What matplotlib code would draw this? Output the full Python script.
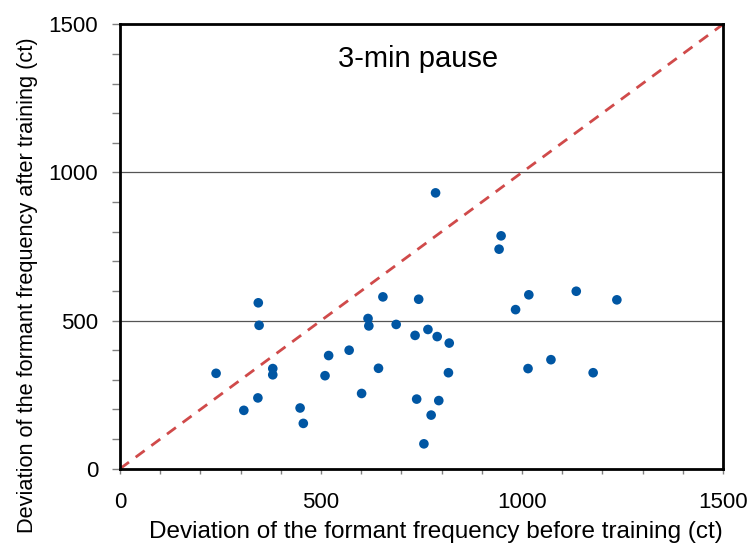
import numpy as np
import matplotlib
matplotlib.use('Agg')
import matplotlib.pyplot as plt
from matplotlib.ticker import MultipleLocator

plt.rcParams['font.family'] = ['Liberation Sans', 'DejaVu Sans']

# deviation before training (ct)
before = [239, 344, 346, 308, 343, 380, 380, 448, 456, 510,
          519, 570, 601, 617, 619, 643, 654, 687, 734, 738,
          743, 766, 756, 774, 789, 785, 793, 819, 817, 943,
          948, 984, 1017, 1015, 1072, 1135, 1177, 1236]
# deviation after training (ct)
after = [322, 560, 484, 197, 239, 338, 317, 205, 153, 314,
         382, 400, 254, 507, 482, 339, 580, 487, 450, 235,
         572, 470, 84, 181, 446, 931, 230, 424, 324, 741,
         786, 537, 587, 338, 368, 599, 324, 570]

x_ticks = [0, 500, 1000, 1500]
y_ticks = [0, 500, 1000, 1500]
title = '3-min pause'

fig = plt.figure(figsize=(7.51, 5.47), dpi=100)
ax = fig.add_axes([0.1598, 0.1431, 0.8029, 0.8125])

for g in [500, 1000]:
    ax.axhline(g, color='#555555', lw=0.9, zorder=1)

ax.plot([0, 1500], [0, 1500], ls=(0, (4, 3)), color='#d04a4a', lw=2.0,
        zorder=2)
ax.scatter(before, after, s=48, color='#0056a3', edgecolors='none',
           zorder=3)

ax.set_xlim(0, 1500)
ax.set_ylim(0, 1500)
ax.set_xticks(x_ticks)
ax.set_yticks(y_ticks)
ax.xaxis.set_minor_locator(MultipleLocator(100))
ax.yaxis.set_minor_locator(MultipleLocator(100))
ax.tick_params(which='both', direction='out', width=1, color='#808080',
               labelsize=16)
ax.tick_params(axis='x', which='both', length=3.6, pad=13)
ax.tick_params(axis='y', which='both', length=5.8, pad=10)

for s in ax.spines.values():
    s.set_linewidth(2)
    s.set_color('black')

ax.set_xlabel('Deviation of the formant frequency before training (ct)',
              fontsize=17.5)
ax.set_ylabel('Deviation of the formant frequency after training (ct)',
              fontsize=15.7)
ax.xaxis.set_label_coords(0.524, -0.1177)
ax.yaxis.set_label_coords(-0.136, 0.412)
ax.text(0.495, 0.922, title, transform=ax.transAxes, fontsize=21,
        ha='center', va='center')

fig.savefig('out.png', dpi=100)
